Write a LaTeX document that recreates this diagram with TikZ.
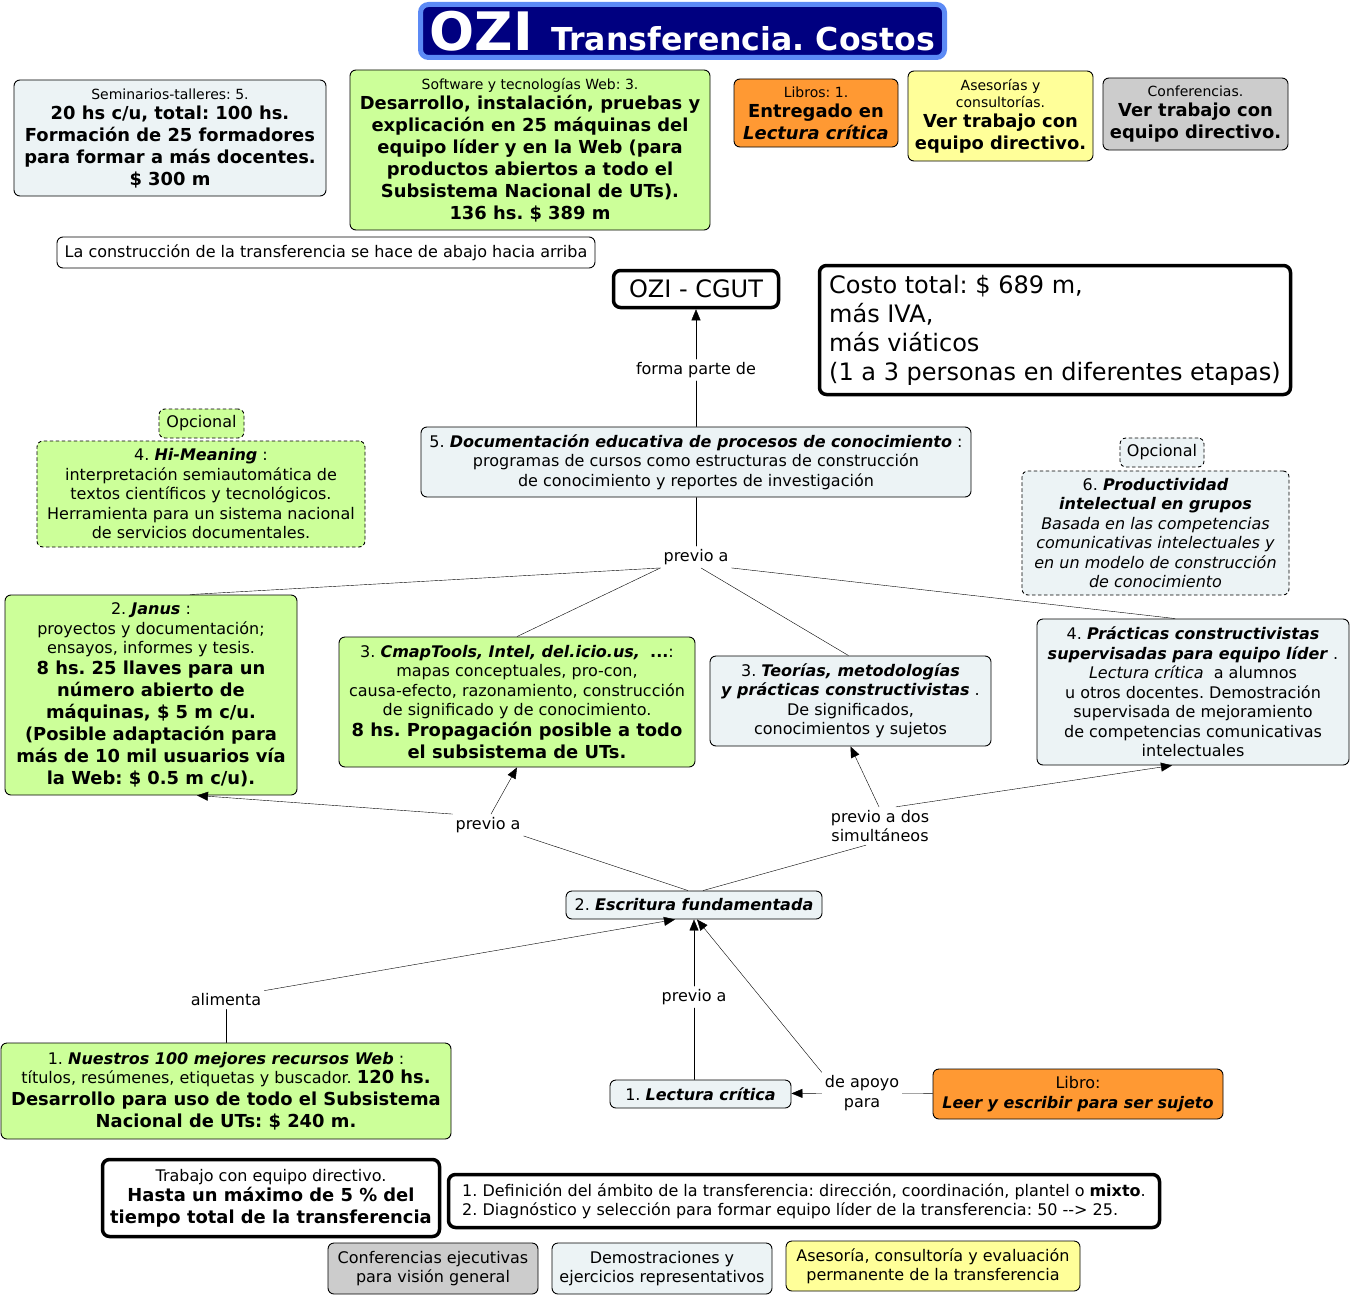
\documentclass[tikz,border=0pt]{standalone}
\usepackage{fontspec}
\setmainfont{DejaVu Sans}
\usetikzlibrary{arrows.meta}
\frenchspacing
\definecolor{cmgreen}{HTML}{CCFF99}
\definecolor{cmblue}{RGB}{236,243,245}
\definecolor{cmorange}{HTML}{FF9933}
\definecolor{cmyellow}{HTML}{FFFF99}
\definecolor{cmgray}{HTML}{CCCCCC}
\definecolor{cmnavy}{HTML}{000080}
\definecolor{cmtitle}{HTML}{5C8AF5}
\newcommand{\smalltxt}{\fontsize{14}{16.5}\selectfont}
\newcommand{\normtxt}{\fontsize{16}{19.5}\selectfont}
\newcommand{\boldtxt}{\fontsize{17.9}{22}\selectfont\bfseries}
\newcommand{\bfit}[1]{\textbf{\textit{#1}}}
\begin{document}
\begin{tikzpicture}[x=1pt, y=-1pt, line cap=round, line join=round, font=\normtxt, >={Triangle[length=11pt,width=9pt]}]
	\tikzset{concept/.style={draw, rounded corners=6pt, line width=0.9pt, align=center, inner sep=2pt},
		sz/.style 2 args={minimum width=#1pt, minimum height=#2pt},
		bluebox/.style={concept, fill=cmblue},
		greenbox/.style={concept, fill=cmgreen},
		orangebox/.style={concept, fill=cmorange},
		yellowbox/.style={concept, fill=cmyellow},
		graybox/.style={concept, fill=cmgray},
		thickbox/.style={concept, fill=white, line width=3.5pt, rounded corners=7pt},
		linkword/.style={align=center, inner sep=3pt}}
	\useasboundingbox (0,0) rectangle (1351,1295);
	% titulo
	\node[draw=cmtitle, fill=cmnavy, text=white, line width=5pt, rounded corners=8pt, sz={524}{53}, inner sep=0pt] (title) at (682.5,31)
		{{\fontsize{53}{53}\selectfont\bfseries OZI}\hspace{18pt}{\fontsize{31.6}{31.6}\selectfont\bfseries Transferencia. Costos}};
	% costos de arriba
	\node[bluebox, sz={312}{116}, font=\boldtxt] (semi) at (170,138)
		{{\smalltxt\mdseries Seminarios-talleres: 5.}\\[-2pt]20 hs c/u, total: 100 hs.\\Formación de 25 formadores\\para formar a más docentes.\\\$ 300 m};
	\node[greenbox, sz={360}{160}, font=\boldtxt] (soft) at (530,150)
		{{\smalltxt\mdseries Software y tecnologías Web: 3.}\\[-2pt]Desarrollo, instalación, pruebas y\\explicación en 25 máquinas del\\equipo líder y en la Web (para\\productos abiertos a todo el\\Subsistema Nacional de UTs).\\136 hs. \$ 389 m};
	\node[orangebox, sz={164}{68}, font=\boldtxt] (libros) at (816,113)
		{{\smalltxt\mdseries Libros: 1.}\\[-2pt]Entregado en\\\textit{Lectura crítica}};
	\node[yellowbox, sz={185}{90}, font=\boldtxt] (asesor) at (1000.5,116)
		{{\smalltxt\mdseries Asesorías y}\\[-5pt]{\smalltxt\mdseries consultorías.}\\[-2pt]Ver trabajo con\\equipo directivo.};
	\node[graybox, sz={185}{72}, font=\boldtxt] (confer) at (1195.5,114)
		{{\smalltxt\mdseries Conferencias.}\\[-2pt]Ver trabajo con\\equipo directivo.};
	\node[concept, fill=white, sz={538}{31}] (nota) at (326,252.5)
		{La construcción de la transferencia se hace de abajo hacia arriba};
	\node[thickbox, sz={165}{37}, font=\fontsize{24}{29}\selectfont] (ozi) at (696,289) {OZI - CGUT};
	\node[thickbox, sz={471}{129}, align=left, font=\fontsize{24}{29}\selectfont] (costo) at (1055,330)
		{Costo total: \$ 689 m,\\más IVA,\\más viáticos\\(1 a 3 personas en diferentes etapas)};
	% conceptos
	\node[greenbox, dashed, sz={85}{29}] (opc1) at (201.5,423.5) {Opcional};
	\node[greenbox, dashed, sz={328}{106}] (himean) at (201,494)
		{4. \bfit{Hi-Meaning} :\\interpretación semiautomática de\\textos científicos y tecnológicos.\\Herramienta para un sistema nacional\\de servicios documentales.};
	\node[bluebox, sz={550}{70}] (doc) at (696,462)
		{5. \bfit{Documentación educativa de procesos de conocimiento} :\\programas de cursos como estructuras de construcción\\de conocimiento y reportes de investigación};
	\node[bluebox, dashed, sz={84}{29}] (opc2) at (1162,452.5) {Opcional};
	\node[bluebox, dashed, sz={267}{124}] (prod) at (1155.5,533)
		{6. \bfit{Productividad}\\\bfit{intelectual en grupos}\\\textit{Basada en las competencias}\\\textit{comunicativas intelectuales y}\\\textit{en un modelo de construcción}\\\textit{de conocimiento}};
	\node[greenbox, sz={292}{200}] (janus) at (151,695)
		{2. \bfit{Janus} :\\proyectos y documentación;\\ensayos, informes y tesis.\\[1pt]{\boldtxt 8 hs. 25 llaves para un}\\[2.5pt]{\boldtxt número abierto de}\\[2.5pt]{\boldtxt máquinas, \$ 5 m c/u.}\\[2.5pt]{\boldtxt (Posible adaptación para}\\[2.5pt]{\boldtxt más de 10 mil usuarios vía}\\[2.5pt]{\boldtxt la Web: \$ 0.5 m c/u).}};
	\node[greenbox, sz={356}{130}] (cmap) at (517,702)
		{3. \bfit{CmapTools, Intel, del.icio.us,}\ \ \textbf{...}:\\mapas conceptuales, pro-con,\\causa-efecto, razonamiento, construcción\\de significado y de conocimiento.\\[1pt]{\boldtxt 8 hs. Propagación posible a todo}\\[2.5pt]{\boldtxt el subsistema de UTs.}};
	\node[bluebox, sz={281}{90}] (teor) at (850.5,701)
		{3. \bfit{Teorías, metodologías}\\\bfit{y prácticas constructivistas} .\\De significados,\\conocimientos y sujetos};
	\node[bluebox, sz={312}{146}] (pract) at (1193,692)
		{4. \bfit{Prácticas constructivistas}\\\bfit{supervisadas para equipo líder} .\\\textit{Lectura crítica}\ \ a alumnos\\u otros docentes. Demostración\\supervisada de mejoramiento\\de competencias comunicativas\\intelectuales};
	\node[bluebox, sz={256}{28}] (escr) at (694,905) {2. \bfit{Escritura fundamentada}};
	\node[greenbox, sz={450}{96}] (nuest) at (226,1091)
		{1. \bfit{Nuestros 100 mejores recursos Web} :\\títulos, resúmenes, etiquetas y buscador. {\boldtxt 120 hs.}\\[2.5pt]{\boldtxt Desarrollo para uso de todo el Subsistema}\\[2.5pt]{\boldtxt Nacional de UTs: \$ 240 m.}};
	\node[bluebox, sz={181}{28}] (lect) at (700.5,1094) {1. \bfit{Lectura crítica}};
	\node[orangebox, sz={290}{50}] (libro) at (1078,1094) {Libro:\\\bfit{Leer y escribir para ser sujeto}};
	% abajo
	\node[thickbox, sz={337}{77}, font=\boldtxt] (trab) at (271,1198)
		{{\normtxt\mdseries Trabajo con equipo directivo.}\\[-2pt]Hasta un máximo de 5 \% del\\tiempo total de la transferencia};
	\node[thickbox, sz={711}{53}, align=left] (defin) at (804,1201)
		{1. Definición del ámbito de la transferencia: dirección, coordinación, plantel o \textbf{mixto}.\\2. Diagnóstico y selección para formar equipo líder de la transferencia: 50 {-}{-}> 25.};
	\node[graybox, sz={210}{51}] (confej) at (433,1268.5) {Conferencias ejecutivas\\para visión general};
	\node[bluebox, sz={220}{51}] (demo) at (662,1268.5) {Demostraciones y\\ejercicios representativos};
	\node[yellowbox, sz={294}{50}] (asesperm) at (933,1266) {Asesoría, consultoría y evaluación\\permanente de la transferencia};
	% frases de enlace
	\node[linkword] (lforma) at (696,370) {forma parte de};
	\node[linkword] (lprevA) at (696,557) {previo a};
	\node[linkword] (lprevB) at (488,825) {previo a};
	\node[linkword] (ldos) at (880,826) {previo a dos\\simultáneos};
	\node[linkword] (lalim) at (226,1000) {alimenta};
	\node[linkword] (lprevC) at (694,997) {previo a};
	\node[linkword] (lapoyo) at (862,1093) {de apoyo\\para};
	% enlaces
	\draw (doc) -- (lforma);
	\draw[->] (lforma) -- (ozi);
	\draw (doc) -- (lprevA);
	\draw (lprevA.south west) -- ([xshift=39pt]janus.north);
	\draw (lprevA.south west) -- (cmap.north);
	\draw ([xshift=5pt]lprevA.south) -- ([xshift=-2pt]teor.north);
	\draw (lprevA.south east) -- ([xshift=-18pt]pract.north);
	\draw ([xshift=-6pt]escr.north) -- (lprevB.south east);
	\draw[->] (lprevB.north west) -- ([xshift=46pt]janus.south);
	\draw[->] ([xshift=3pt]lprevB.north) -- (cmap.south);
	\draw ([xshift=9pt]escr.north) -- ([xshift=-14pt]ldos.south);
	\draw[->] ([xshift=-1pt]ldos.north) -- (teor.south);
	\draw[->] ([xshift=16pt]ldos.north) -- ([xshift=-21pt]pract.south);
	\draw (nuest) -- (lalim);
	\draw[->] (lalim.north east) -- ([xshift=-19pt]escr.south);
	\draw ([xshift=-6.5pt]lect.north) -- (lprevC);
	\draw[->] (lprevC) -- (escr.south);
	\draw (libro) -- (lapoyo);
	\draw[->] (lapoyo) -- (lect);
	\draw[->] (lapoyo.north west) -- ([xshift=3pt]escr.south);
\end{tikzpicture}
\end{document}
